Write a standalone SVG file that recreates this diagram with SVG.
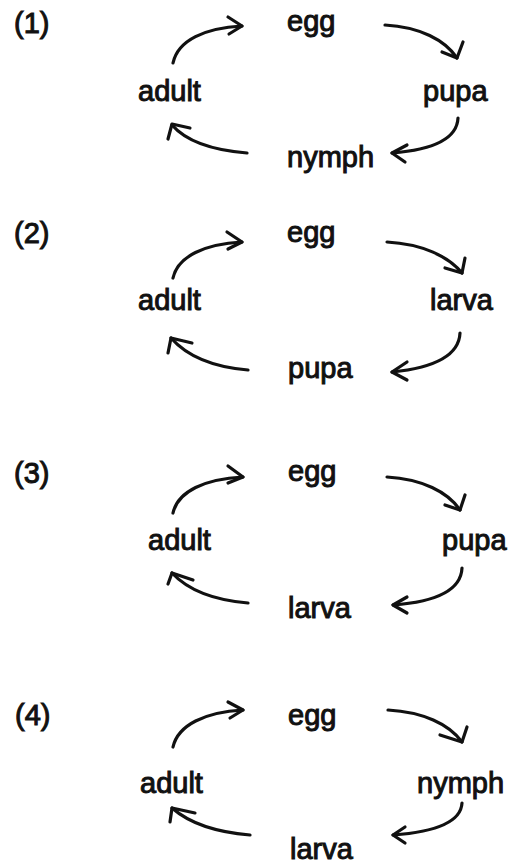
<svg xmlns="http://www.w3.org/2000/svg" width="510" height="864" viewBox="0 0 510 864">
<style>
text{font-family:"Liberation Sans",Arial,sans-serif;font-size:29px;fill:#111;stroke:#111;stroke-width:1px}
.c{fill:none;stroke:#111;stroke-width:3.2;stroke-linecap:round;stroke-linejoin:round}
</style>
<rect width="510" height="864" fill="#fff"/>
<g id="panel1">
<g id="p1-num"><text x="14" y="33">(1)</text></g>
<g id="p1-egg"><text x="287" y="31">egg</text></g>
<g id="p1-adult"><text x="138" y="101">adult</text></g>
<g id="p1-pupa"><text x="423" y="101">pupa</text></g>
<g id="p1-nymph"><text x="287" y="167">nymph</text></g>
</g>
<g id="panel2">
<g id="p2-num"><text x="14" y="243">(2)</text></g>
<g id="p2-egg"><text x="287" y="242">egg</text></g>
<g id="p2-adult"><text x="138" y="310">adult</text></g>
<g id="p2-larva"><text x="430" y="310">larva</text></g>
<g id="p2-pupa"><text x="288" y="378">pupa</text></g>
</g>
<g id="panel3">
<g id="p3-num"><text x="14" y="483">(3)</text></g>
<g id="p3-egg"><text x="288" y="481">egg</text></g>
<g id="p3-adult"><text x="148" y="550">adult</text></g>
<g id="p3-pupa"><text x="442" y="550">pupa</text></g>
<g id="p3-larva"><text x="288" y="618">larva</text></g>
</g>
<g id="panel4">
<g id="p4-num"><text x="15" y="725">(4)</text></g>
<g id="p4-egg"><text x="288" y="725">egg</text></g>
<g id="p4-adult"><text x="140" y="793">adult</text></g>
<g id="p4-nymph"><text x="417" y="793">nymph</text></g>
<g id="p4-larva"><text x="290" y="859">larva</text></g>
</g>
<g id="connectors">
<!-- panel 1 -->
<path class="c" d="M173,63 C178,40 205,28 242,26"/>
<polyline class="c" points="228,17 242,26 229,34"/>
<path class="c" d="M385,25 C420,27 445,40 457,58"/>
<polyline class="c" points="442,52 457,58 463,42"/>
<path class="c" d="M458,118 C457,140 430,150 392,153"/>
<polyline class="c" points="407,145 392,153 405,162"/>
<path class="c" d="M247,153 C210,150 185,140 172,125"/>
<polyline class="c" points="168,139 172,124 190,128"/>
<!-- panel 2 -->
<path class="c" d="M173,278 C178,256 205,244 242,242"/>
<polyline class="c" points="227,232 242,242 228,249"/>
<path class="c" d="M387,242 C422,244 448,256 462,273"/>
<polyline class="c" points="445,268 462,273 465,258"/>
<path class="c" d="M460,333 C459,356 432,368 392,372"/>
<polyline class="c" points="407,362 392,372 407,380"/>
<path class="c" d="M248,370 C212,367 186,355 171,338"/>
<polyline class="c" points="168,353 171,338 192,343"/>
<!-- panel 3 -->
<path class="c" d="M173,513 C178,491 205,479 243,477"/>
<polyline class="c" points="228,466 243,477 228,483"/>
<path class="c" d="M387,477 C422,479 448,492 460,510"/>
<polyline class="c" points="445,505 460,510 465,495"/>
<path class="c" d="M462,568 C461,591 434,602 393,605"/>
<polyline class="c" points="407,597 393,605 407,613"/>
<path class="c" d="M248,603 C212,600 187,589 172,573"/>
<polyline class="c" points="168,584 172,573 193,580"/>
<!-- panel 4 -->
<path class="c" d="M173,747 C178,725 205,712 243,710"/>
<polyline class="c" points="228,702 243,710 230,718"/>
<path class="c" d="M388,710 C423,712 449,724 462,742"/>
<polyline class="c" points="440,735 462,742 467,727"/>
<path class="c" d="M462,803 C461,822 434,832 393,835"/>
<polyline class="c" points="405,827 393,835 405,843"/>
<path class="c" d="M250,835 C214,832 188,822 172,808"/>
<polyline class="c" points="170,822 172,808 195,813"/>
</g>
</svg>
